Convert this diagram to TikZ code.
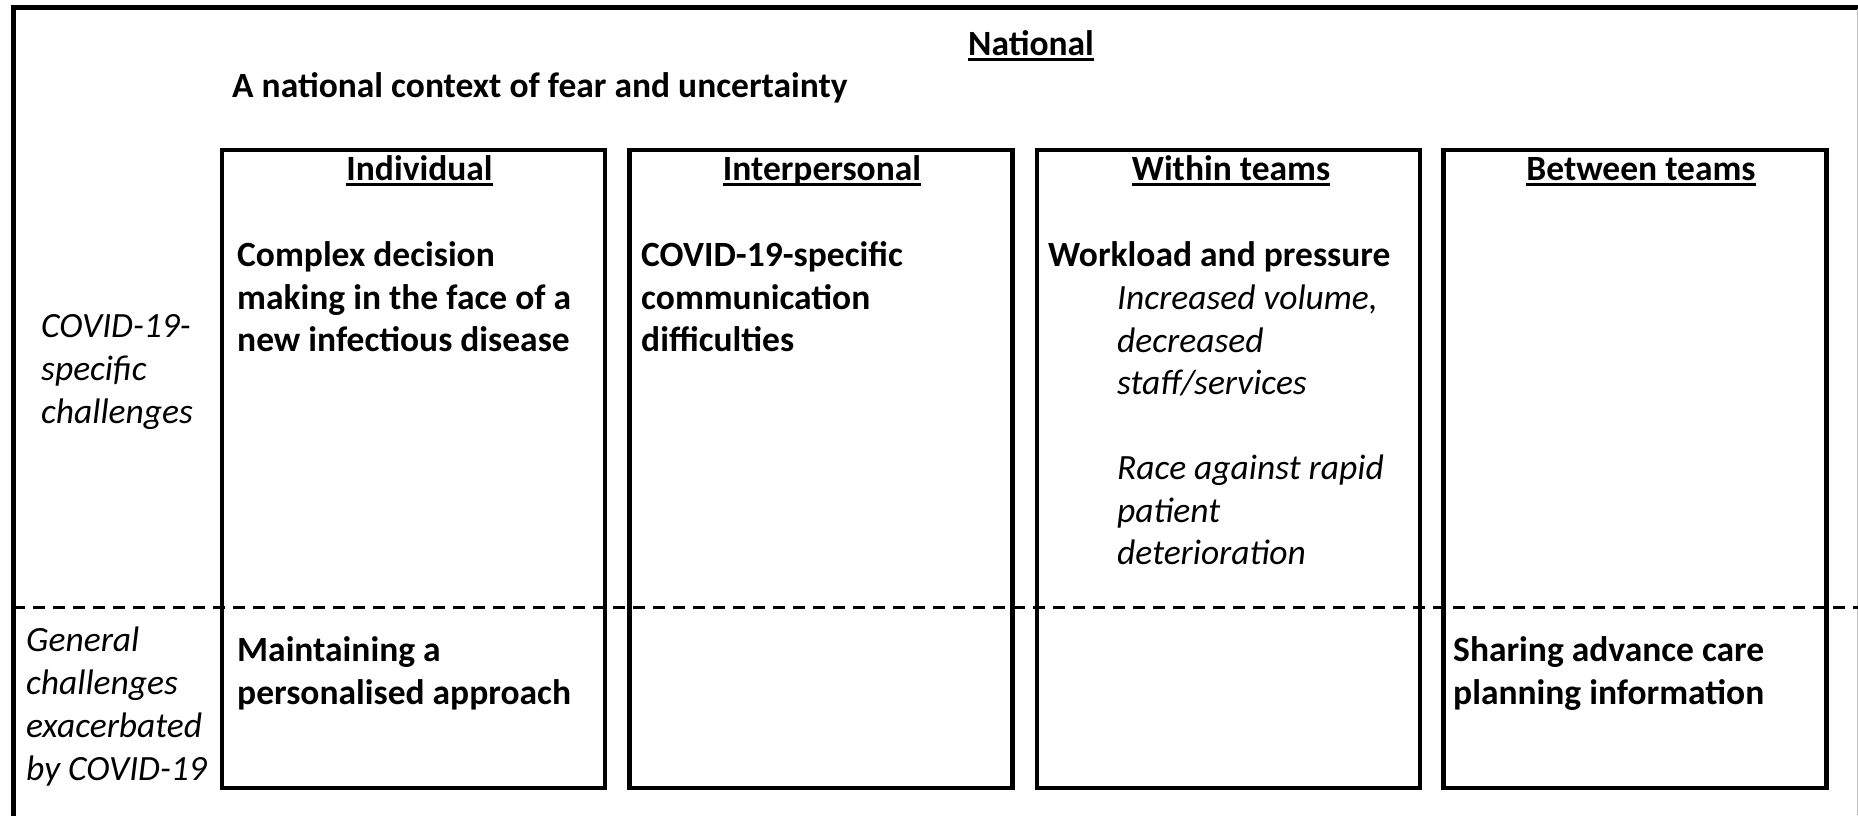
\documentclass[tikz,border=0pt]{standalone}
\usepackage{fontspec}
\setmainfont{Carlito}
\usepackage{tikz}
\usetikzlibrary{positioning}

\newsavebox{\hdrbox}
\newcommand{\hdrline}[1]{\sbox{\hdrbox}{#1}\rlap{\rule[-5.5pt]{\wd\hdrbox}{2.5pt}}\usebox{\hdrbox}}

\begin{document}
\begin{tikzpicture}[x=1pt,y=-1pt,
		every node/.style={inner sep=0pt},
		colbox/.style={draw, line width=4.5pt, minimum width=383pt, minimum height=638pt},
		hdr/.style={anchor=base, font=\fontsize{35.5}{42.5}\selectfont\bfseries},
		body/.style={anchor=north west, align=left, font=\fontsize{35.5}{42.5}\selectfont\bfseries},
		note/.style={anchor=north west, align=left, font=\fontsize{35.5}{42.5}\selectfont\itshape},
		side/.style={anchor=north west, align=left, font=\fontsize{35.5}{43}\selectfont\itshape}]
		\useasboundingbox (0,0) rectangle (1858,815);
		%
		\draw[line width=5pt] (13,830) -- (13,7) -- (1870,7);
		\draw[black!25, line width=1pt] (1857.5,9) -- (1857.5,815);
		%
		\node[hdr] (nat) at (1031,55) {\hdrline{National}};
		\node[hdr, anchor=base west] (fear) at (232,97) {A national context of fear and uncertainty};
		%
		\node[colbox] (indiv) at (413.5,469) {};
		\node[colbox] (inter) at (821,469) {};
		\node[colbox] (within) at (1228.5,469) {};
		\node[colbox] (between) at (1635,469) {};
		%
		\node[hdr] (indivT) at (419.5,180) {\hdrline{Individual}};
		\node[hdr] (interT) at (822,180) {\hdrline{Interpersonal}};
		\node[hdr] (withinT) at (1231,180) {\hdrline{Within teams}};
		\node[hdr] (betweenT) at (1641,180) {\hdrline{Between teams}};
		%
		\draw[line width=3pt, dash pattern=on 12pt off 8pt] (13,607) -- (1858,607);
		%
		\node[side] (specific) at (41,307) {\strut COVID-19-\\specific\\challenges};
		\node[side] (general) at (26,621) {\strut General\\challenges\\exacerbated\\by COVID-19};
		%
		\node[body] (decision) at (237,237) {\strut Complex decision\\making in the face of a\\new infectious disease};
		\node[body] (comms) at (641,237) {\strut COVID-19-specific\\communication\\difficulties};
		\node[body] (workload) at (1048,237) {\strut Workload and pressure};
		\node[note] (volume) at (1117,280) {\strut Increased volume,\\decreased\\staff/services\\[42.5pt]Race against rapid\\patient\\deterioration};
		%
		\node[body] (personal) at (237,632) {\strut Maintaining a\\personalised approach};
		\node[body] (advance) at (1453,632) {\strut Sharing advance care\\planning information};
	\end{tikzpicture}
\end{document}
